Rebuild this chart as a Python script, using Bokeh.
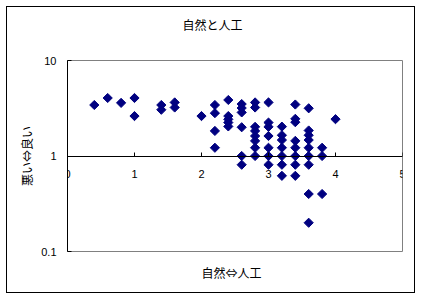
import numpy as np
from bokeh.plotting import figure
from bokeh.models import (LinearAxis, LogAxis, FixedTicker, Title, InlineStyleSheet,
                          Range1d, CustomJSTickFormatter, ColumnDataSource)
from bokeh.embed import file_html
from bokeh.resources import INLINE

# ---- data ----
x_vals = [0.4, 0.6, 0.8, 1.0, 1.0, 1.4, 1.4, 1.6, 1.6, 2.0,
          2.2, 2.2, 2.2, 2.2,
          2.4, 2.4, 2.4, 2.4, 2.4,
          2.6, 2.6, 2.6, 2.6, 2.6, 2.6,
          2.8, 2.8, 2.8, 2.8, 2.8, 2.8, 2.8, 2.8,
          3.0, 3.0, 3.0, 3.0, 3.0, 3.0, 3.0,
          3.2, 3.2, 3.2, 3.2, 3.2, 3.2, 3.2,
          3.4, 3.4, 3.4, 3.4, 3.4, 3.4, 3.4, 3.4,
          3.6, 3.6, 3.6, 3.6, 3.6, 3.6, 3.6, 3.6, 3.6,
          3.8, 3.8, 3.8,
          4.0]
y_vals = [3.42, 4.05, 3.6, 4.05, 2.62, 3.42, 3.05, 3.64, 3.22, 2.62,
          3.42, 2.81, 1.83, 1.22,
          3.86, 2.62, 2.42, 2.24, 2.04,
          3.5, 3.18, 2.86, 2.0, 1.0, 0.81,
          3.64, 3.22, 2.02, 1.83, 1.62, 1.44, 1.22, 1.0,
          3.64, 2.24, 2.02, 1.62, 1.22, 1.0, 0.81,
          2.03, 1.65, 1.47, 1.22, 1.0, 0.81, 0.62,
          3.46, 2.45, 2.26, 1.44, 1.22, 1.0, 0.81, 0.62,
          3.16, 1.85, 1.65, 1.47, 1.22, 1.0, 0.81, 0.4, 0.2,
          1.22, 1.0, 0.4,
          2.43]
x_ticks = [0, 1, 2, 3, 4, 5]
y_ticks = [0.1, 1, 10]
title_text = "自然と人工"
x_label = "自然⇔人工"
y_label = "悪い⇔良い"

JP = "Noto Sans CJK JP"
NUM = "Liberation Sans"

W, H = 421, 299
p = figure(width=W, height=H, output_backend="svg", toolbar_location=None,
           x_range=Range1d(0, 5), y_range=Range1d(0.1, 10), y_axis_type="log",
           x_axis_location=None, y_axis_location=None,
           min_border_left=67, min_border_right=W - 402, min_border_top=60,
           min_border_bottom=H - 251)
p.grid.visible = False
p.title_location = None
p.background_fill_color = "white"
p.border_fill_alpha = 0
p.outline_line_color = "#808080"
p.outline_line_width = 1
# outer chart-area border
p.stylesheets = [InlineStyleSheet(
    css=":host { outline: 1.5px solid black; outline-offset: -7px; }")]

# title: spacer next to the frame, then the title text
p.add_layout(Title(text=" ", text_font_size="1px", standoff=25), "above")
p.add_layout(Title(text=title_text, align="left", offset=115, standoff=0,
                   text_font=JP, text_font_size="12px", text_font_style="normal",
                   text_color="black"), "above")

# y axis (log)
yaxis = LogAxis(ticker=FixedTicker(ticks=y_ticks),
                formatter=CustomJSTickFormatter(code="return tick.toString()"),
                axis_label=y_label)
yaxis.axis_line_color = "black"
yaxis.major_tick_in = 4
yaxis.major_tick_out = 0
yaxis.minor_tick_line_color = None
yaxis.major_label_standoff = 11
yaxis.major_label_text_font = NUM
yaxis.major_label_text_font_size = "11px"
yaxis.major_label_text_color = "black"
yaxis.axis_label_standoff = 3
yaxis.axis_label_text_font = JP
yaxis.axis_label_text_font_size = "12px"
yaxis.axis_label_text_font_style = "normal"
yaxis.axis_label_text_color = "black"
p.add_layout(yaxis, "left")

# x label as a below title (placed next to the frame)
xt = Title(text=x_label, align="left", offset=134, standoff=21,
           text_font=JP, text_font_size="12px", text_font_style="normal",
           text_color="black")
p.add_layout(xt, "below")

# x axis crossing at y = 1
xaxis = LinearAxis(ticker=FixedTicker(ticks=x_ticks), fixed_location=1)
xaxis.axis_line_color = "black"
xaxis.major_tick_in = 4
xaxis.major_tick_out = 0
xaxis.minor_tick_line_color = None
xaxis.major_label_standoff = 14
xaxis.major_label_text_font = NUM
xaxis.major_label_text_font_size = "11px"
xaxis.major_label_text_color = "black"
p.add_layout(xaxis, "below")

src = ColumnDataSource(dict(x=x_vals, y=y_vals))
p.scatter("x", "y", source=src, marker="square", angle=np.pi / 4, size=6.5,
          fill_color="#000080", line_color="#000080")

open("out.html", "w").write(file_html(p, INLINE))
